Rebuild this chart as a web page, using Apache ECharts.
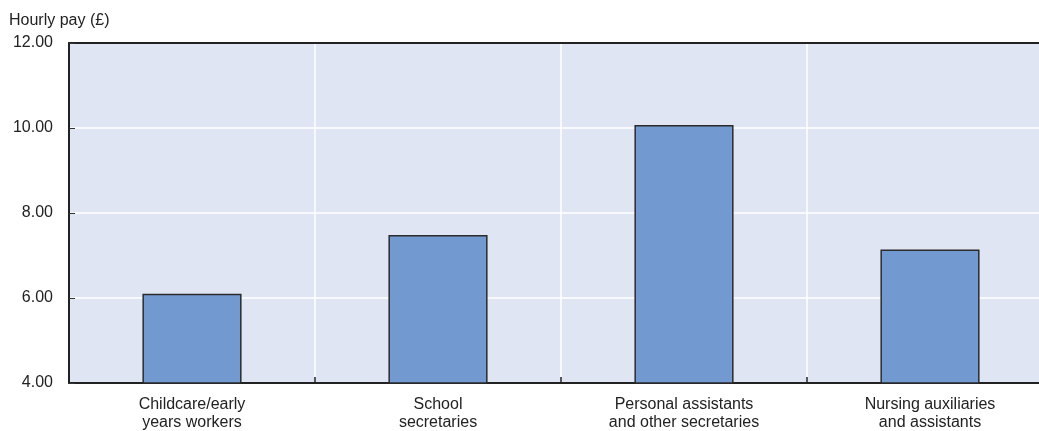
<!DOCTYPE html>
<html>
<head>
<meta charset="utf-8">
<script src="https://cdn.jsdelivr.net/npm/echarts@6/dist/echarts.min.js"></script>
<style>
html,body{margin:0;padding:0;background:#fff;}
#c{width:1039px;height:431px;}
</style>
</head>
<body>
<div id="c"></div>
<script>
const categories = ["Childcare/early\nyears workers", "School\nsecretaries", "Personal assistants\nand other secretaries", "Nursing auxiliaries\nand assistants"];
const hourlyPay = [6.10, 7.48, 10.07, 7.14];
const yTicks = [4, 6, 8, 10, 12];
const yTitle = "Hourly pay (£)";

const FONT = "'Liberation Sans', Arial, sans-serif";
const chart = echarts.init(document.getElementById('c'), null, {renderer: 'canvas'});
chart.setOption({
  animation: false,
  textStyle: {fontFamily: FONT},
  title: {
    text: yTitle, left: 4, top: 8,
    textStyle: {fontFamily: FONT, fontSize: 16, fontWeight: 'normal', color: '#222'}
  },
  grid: {
    left: 69, width: 984, top: 43, height: 340,
    outerBoundsMode: 'none', containLabel: false,
    show: true, backgroundColor: '#dfe5f3', borderWidth: 0
  },
  xAxis: [{
    type: 'category', data: categories, boundaryGap: true,
    axisLine: {show: true, lineStyle: {color: '#222', width: 2}},
    axisTick: {show: true, inside: true, length: 6, lineStyle: {color: '#222', width: 1.5}},
    splitLine: {show: true, lineStyle: {color: '#ffffff', width: 1.5}},
    axisLabel: {fontFamily: FONT, fontSize: 16, color: '#222', lineHeight: 18, margin: 13, interval: 0}
  }, {
    type: 'category', data: categories, position: 'top',
    axisLine: {show: true, lineStyle: {color: '#222', width: 2}},
    axisTick: {show: false}, axisLabel: {show: false}, splitLine: {show: false}
  }],
  yAxis: {
    type: 'value', min: yTicks[0], max: yTicks[yTicks.length - 1], interval: 2,
    axisLine: {show: true, lineStyle: {color: '#222', width: 2}},
    axisTick: {show: true, inside: true, length: 6, lineStyle: {color: '#333', width: 1}},
    splitLine: {show: true, lineStyle: {color: '#ffffff', width: 1.5}},
    axisLabel: {fontFamily: FONT, fontSize: 16, color: '#222', margin: 16,
      formatter: v => v.toFixed(2)}
  },
  series: [{
    type: 'bar', data: hourlyPay, barWidth: '40.3%',
    itemStyle: {color: '#739ad0', borderColor: '#2b2b2b', borderWidth: 1.5}
  }]
});
</script>
</body>
</html>
